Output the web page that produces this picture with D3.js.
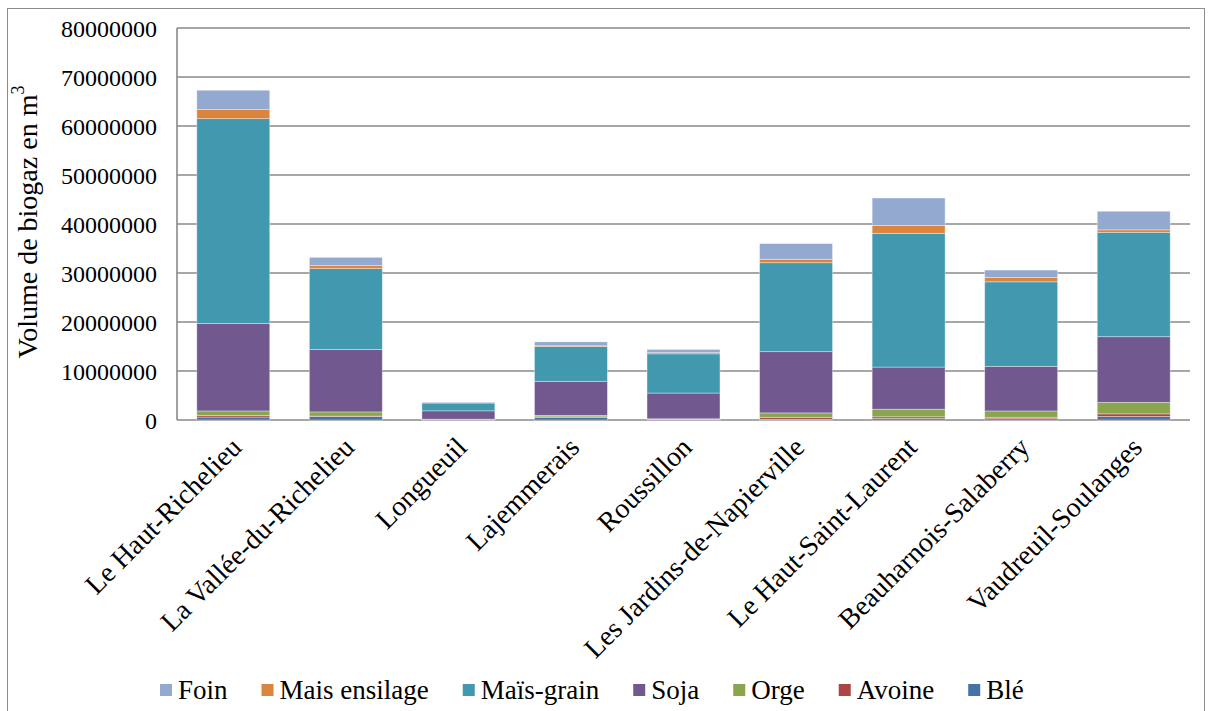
<!DOCTYPE html>
<html>
<head>
<meta charset="utf-8">
<script src="https://cdn.jsdelivr.net/npm/d3@7/dist/d3.min.js"></script>
<style>
  html, body { margin: 0; padding: 0; background: #fff; }
</style>
</head>
<body>
<svg id="chart" width="1211" height="711" font-family="Liberation Serif, Times New Roman, serif"></svg>
<script>
// Regions (MRC) on the x axis
const regions = [
  "Le Haut-Richelieu", "La Vallée-du-Richelieu", "Longueuil", "Lajemmerais",
  "Roussillon", "Les Jardins-de-Napierville", "Le Haut-Saint-Laurent",
  "Beauharnois-Salaberry", "Vaudreuil-Soulanges"
];

// Biogas volume per crop (m³), stacked bottom to top: Blé, Avoine, Orge, Soja, Maïs-grain, Mais ensilage, Foin
const ble         = [ 600000,  700000,   50000,  550000,  100000,   150000,   300000,   270000,   700000];
const avoine      = [ 300000,  100000,   20000,  100000,   50000,   400000,   350000,   280000,   550000];
const orge        = [ 950000,  850000,  100000,  300000,  100000,   900000,  1550000,  1300000,  2350000];
const soja        = [17850000, 12750000, 1700000, 6950000, 5250000, 12500000,  8600000,  9100000, 13400000];
const maisGrain   = [41800000, 16500000, 1600000, 7100000, 8000000, 18150000, 27300000, 17250000, 21300000];
const maisEnsilage= [ 1900000,  600000,   30000,  150000,  250000,   700000,  1600000,   900000,   500000];
const foin        = [ 3900000, 1700000,  150000,  800000,  650000,  3200000,  5600000,  1500000,  3800000];

// Legend order (as displayed) and colours
const seriesNames  = ["Foin", "Mais ensilage", "Maïs-grain", "Soja", "Orge", "Avoine", "Blé"];
const seriesColors = ["#93A9CF", "#DB843D", "#4198AF", "#71588F", "#89A54E", "#AA4643", "#4572A7"];

// Y axis ticks
const yTicks = [0, 10000000, 20000000, 30000000, 40000000, 50000000, 60000000, 70000000, 80000000];
const yTitle = "Volume de biogaz en m";

const FONT = "Liberation Serif, Times New Roman, serif";

const stackOrder = [
  ["Blé", ble], ["Avoine", avoine], ["Orge", orge], ["Soja", soja],
  ["Maïs-grain", maisGrain], ["Mais ensilage", maisEnsilage], ["Foin", foin]
];
const colorOf = d3.scaleOrdinal().domain(seriesNames).range(seriesColors);

const table = regions.map((r, i) => {
  const row = { region: r };
  stackOrder.forEach(([k, arr]) => { row[k] = arr[i]; });
  return row;
});

const svg = d3.select("#chart");
const plot = { left: 177, right: 1190, top: 28, bottom: 420 };

// Outer frame
svg.append("rect")
  .attr("x", 7.5).attr("y", 8.5).attr("width", 1197).attr("height", 710)
  .attr("fill", "none").attr("stroke", "#8c8c8c").attr("stroke-width", 1);

const x = d3.scaleBand().domain(regions).range([plot.left, plot.right]).paddingInner(0.352).paddingOuter(0.176);
const y = d3.scaleLinear().domain([0, 80000000]).range([plot.bottom, plot.top]);

// Gridlines
svg.append("g").selectAll("line").data(yTicks).join("line")
  .attr("x1", plot.left).attr("x2", plot.right)
  .attr("y1", d => y(d)).attr("y2", d => y(d))
  .attr("stroke", "#8a8a8a").attr("stroke-width", 1.6);

// Y axis line
svg.append("line")
  .attr("x1", plot.left).attr("x2", plot.left)
  .attr("y1", plot.top).attr("y2", plot.bottom)
  .attr("stroke", "#8a8a8a").attr("stroke-width", 1.6);

// Y axis labels
const yAxis = d3.axisLeft(y).tickValues(yTicks).tickFormat(d3.format("d")).tickSize(0).tickPadding(20);
const yG = svg.append("g").attr("transform", `translate(${plot.left},0)`).call(yAxis);
yG.attr("font-family", FONT);
yG.select(".domain").remove();
yG.selectAll("text").attr("font-size", 24).attr("fill", "#000").attr("dy", "0.34em");

// Stacked bars
const stack = d3.stack().keys(stackOrder.map(s => s[0]));
const layers = stack(table);
svg.append("g").selectAll("g").data(layers).join("g")
  .attr("fill", d => colorOf(d.key))
  .selectAll("rect").data(d => d).join("rect")
  .attr("x", d => x(d.data.region))
  .attr("width", x.bandwidth())
  .attr("y", d => y(d[1]))
  .attr("height", d => y(d[0]) - y(d[1]))
  .attr("stroke", "rgba(255,255,255,0.45)").attr("stroke-width", 0.8);

// X axis labels (rotated)
const xG = svg.append("g").attr("font-family", FONT);
xG.selectAll("text").data(regions).join("text")
  .attr("transform", d => `translate(${x(d) + x.bandwidth() / 2 + 10},${plot.bottom + 29}) rotate(-45)`)
  .attr("text-anchor", "end")
  .attr("font-size", 28)
  .attr("fill", "#000")
  .text(d => d);

// Y axis title
const title = svg.append("text")
  .attr("font-family", FONT)
  .attr("transform", `translate(37,${(plot.top + plot.bottom) / 2 - 2}) rotate(-90)`)
  .attr("text-anchor", "middle")
  .attr("font-size", 28)
  .attr("fill", "#000");
title.append("tspan").text(yTitle);
title.append("tspan").attr("font-size", 18).attr("dy", "-0.75em").text("3");

// Legend
const legend = svg.append("g").attr("font-family", FONT);
let lx = 160;
const ly = 690;
seriesNames.forEach((name, i) => {
  legend.append("rect").attr("x", lx).attr("y", ly - 6).attr("width", 12).attr("height", 12)
    .attr("fill", seriesColors[i]);
  const t = legend.append("text").attr("x", lx + 18).attr("y", ly + 9)
    .attr("font-size", 27).attr("fill", "#000").text(name);
  lx += 18 + t.node().getComputedTextLength() + 34;
});
</script>
</body>
</html>
